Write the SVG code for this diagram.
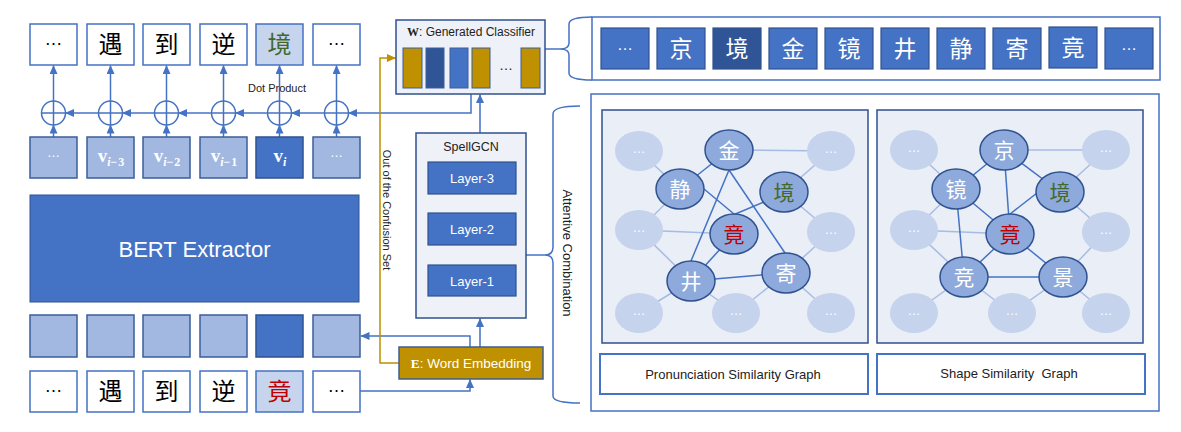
<svg xmlns="http://www.w3.org/2000/svg" width="1181" height="432" viewBox="0 0 1181 432">
<defs>
<marker id="ab" markerUnits="userSpaceOnUse" markerWidth="9" markerHeight="8" refX="8.5" refY="4" orient="auto"><path d="M0,0 L9,4 L0,8 z" fill="#4472C4"/></marker>
<marker id="ag" markerUnits="userSpaceOnUse" markerWidth="9" markerHeight="8" refX="8.5" refY="4" orient="auto"><path d="M0,0 L9,4 L0,8 z" fill="#BF9000"/></marker>
<style>
.cbox{fill:#fff;stroke:#4472C4;stroke-width:1.5}
.hbox{fill:#C7D4ED;stroke:#4472C4;stroke-width:1.5}
.vbox{fill:#A2B8E1;stroke:#3A5E9C;stroke-width:1.5}
.vdark{fill:#4472C4;stroke:#2F528F;stroke-width:1.5}
.blk{fill:#4472C4;stroke:#2F528F;stroke-width:1.2}
.blkd{fill:#2F5597;stroke:#2F528F;stroke-width:1.2}
.pale{fill:#EEF1F8;stroke:#2F528F;stroke-width:1.5}
.big{fill:#fff;stroke:#4472C4;stroke-width:1.5}
.panel{fill:#E9EEF7;stroke:#2F528F;stroke-width:1.5}
.lbl{fill:#fff;stroke:#4472C4;stroke-width:2}
.cjk{font-family:"Noto Sans CJK SC","Noto Sans CJK JP",sans-serif;text-anchor:middle}
.lat{font-family:"Liberation Sans",Arial,sans-serif;text-anchor:middle}
.ser{font-family:"Liberation Serif","Times New Roman",serif;font-weight:bold}
.conn{fill:none;stroke:#4472C4;stroke-width:1.5}
.arr{marker-end:url(#ab)}
.gold{fill:none;stroke:#BF9000;stroke-width:1.5}
.plus{fill:#fff;stroke:#4472C4;stroke-width:1.5}
.mn{fill:#8EA9DB;stroke:#2F528F;stroke-width:1.5}
.fd{fill:#C5D3EC;stroke:none}
.es{stroke:#4472C4;stroke-width:1.5}
.ef{stroke:#A6BCE4;stroke-width:1.5}
.wt{fill:#fff}
.dots{font-family:"Liberation Sans",Arial,sans-serif;text-anchor:middle}
.vl{font-family:"Liberation Serif","Times New Roman",serif;font-weight:bold;font-size:19px;fill:#fff;text-anchor:middle}
.sub{font-size:12px}
</style>
</defs>
<rect width="1181" height="432" fill="#fff"/>

<!-- connectors -->
<g id="connectors">
  <polyline class="conn arr" points="471,94 471,113 348.5,113"/>
  <line class="conn arr" x1="324" y1="113" x2="291.5" y2="113"/>
  <line class="conn arr" x1="267" y1="113" x2="235.5" y2="113"/>
  <line class="conn arr" x1="211" y1="113" x2="178.5" y2="113"/>
  <line class="conn arr" x1="154" y1="113" x2="122.5" y2="113"/>
  <line class="conn arr" x1="98" y1="113" x2="65.5" y2="113"/>
  <line class="conn arr" x1="53.5" y1="137" x2="53.5" y2="125"/>
  <line class="conn arr" x1="110.5" y1="137" x2="110.5" y2="125"/>
  <line class="conn arr" x1="166.5" y1="137" x2="166.5" y2="125"/>
  <line class="conn arr" x1="223.5" y1="137" x2="223.5" y2="125"/>
  <line class="conn arr" x1="279.5" y1="137" x2="279.5" y2="125"/>
  <line class="conn arr" x1="336.5" y1="137" x2="336.5" y2="125"/>
  <line class="conn arr" x1="53.5" y1="101" x2="53.5" y2="65.5"/>
  <line class="conn arr" x1="110.5" y1="101" x2="110.5" y2="65.5"/>
  <line class="conn arr" x1="166.5" y1="101" x2="166.5" y2="65.5"/>
  <line class="conn arr" x1="223.5" y1="101" x2="223.5" y2="65.5"/>
  <line class="conn arr" x1="279.5" y1="101" x2="279.5" y2="65.5"/>
  <line class="conn arr" x1="336.5" y1="101" x2="336.5" y2="65.5"/>
  <line class="conn arr" x1="480" y1="133" x2="480" y2="94.5"/>
  <line class="conn arr" x1="480" y1="347" x2="480" y2="318.5"/>
  <polyline class="conn arr" points="470,347 470,336 361,336"/>
  <polyline class="conn arr" points="360,391 470,391 470,379.5"/>
  <polyline class="gold" points="399,363 380,363 380,58 395.5,58" marker-end="url(#ag)"/>
  <line class="conn" x1="545" y1="49" x2="560" y2="49"/>
  <path class="conn" d="M592,17 Q569,17 569,24 L569,43 Q569,49 560,49 Q569,49 569,55 L569,73 Q569,80 592,80"/>
  <line class="conn" x1="526" y1="255" x2="545" y2="255"/>
  <path class="conn" d="M580,106 Q553,106 553,114 L553,247 Q553,255 545,255 Q553,255 553,263 L553,396 Q553,403 580,403"/>
</g>

<!-- output chars -->
<g id="out-0"><rect class="cbox" x="30" y="24" width="47" height="41"/><text class="dots" x="53.5" y="45" font-size="18" fill="#000">…</text></g>
<g id="out-1"><rect class="cbox" x="87" y="24" width="47" height="41"/><text class="cjk" x="110.5" y="53" font-size="24" fill="#000">遇</text></g>
<g id="out-2"><rect class="cbox" x="143" y="24" width="47" height="41"/><text class="cjk" x="166.5" y="53" font-size="24" fill="#000">到</text></g>
<g id="out-3"><rect class="cbox" x="200" y="24" width="47" height="41"/><text class="cjk" x="223.5" y="53" font-size="24" fill="#000">逆</text></g>
<g id="out-4"><rect class="hbox" x="256" y="24" width="47" height="41"/><text class="cjk" x="279.5" y="53" font-size="24" fill="#43682B">境</text></g>
<g id="out-5"><rect class="cbox" x="313" y="24" width="47" height="41"/><text class="dots" x="336.5" y="45" font-size="18" fill="#000">…</text></g>

<!-- plus circles -->
<g id="plus">
  <g><circle class="plus" cx="53.5" cy="113" r="12"/><path class="conn" d="M41.5,113 H65.5 M53.5,101 V125"/></g>
  <g><circle class="plus" cx="110.5" cy="113" r="12"/><path class="conn" d="M98.5,113 H122.5 M110.5,101 V125"/></g>
  <g><circle class="plus" cx="166.5" cy="113" r="12"/><path class="conn" d="M154.5,113 H178.5 M166.5,101 V125"/></g>
  <g><circle class="plus" cx="223.5" cy="113" r="12"/><path class="conn" d="M211.5,113 H235.5 M223.5,101 V125"/></g>
  <g><circle class="plus" cx="279.5" cy="113" r="12"/><path class="conn" d="M267.5,113 H291.5 M279.5,101 V125"/></g>
  <g><circle class="plus" cx="336.5" cy="113" r="12"/><path class="conn" d="M324.5,113 H348.5 M336.5,101 V125"/></g>
</g>
<text class="lat" x="277" y="92" font-size="11" fill="#222">Dot Product</text>

<!-- v boxes -->
<g id="v-0"><rect class="vbox" x="30" y="137" width="47" height="41"/><text class="dots wt" x="53.5" y="157" font-size="13">…</text></g>
<g id="v-1"><rect class="vbox" x="87" y="137" width="47" height="41"/><text class="vl" x="111" y="162">v<tspan class="sub" dy="4"><tspan font-style="italic">i</tspan>−<tspan dx="1">3</tspan></tspan></text></g>
<g id="v-2"><rect class="vbox" x="143" y="137" width="47" height="41"/><text class="vl" x="167" y="162">v<tspan class="sub" dy="4"><tspan font-style="italic">i</tspan>−<tspan dx="1">2</tspan></tspan></text></g>
<g id="v-3"><rect class="vbox" x="200" y="137" width="47" height="41"/><text class="vl" x="224" y="162">v<tspan class="sub" dy="4"><tspan font-style="italic">i</tspan>−<tspan dx="1">1</tspan></tspan></text></g>
<g id="v-4"><rect class="vdark" x="256" y="137" width="47" height="41"/><text class="vl" x="280" y="162">v<tspan class="sub" dy="4" font-style="italic">i</tspan></text></g>
<g id="v-5"><rect class="vbox" x="313" y="137" width="47" height="41"/><text class="dots wt" x="336.5" y="157" font-size="13">…</text></g>

<!-- BERT -->
<g id="bert"><rect x="30" y="195" width="329" height="107" fill="#4472C4" stroke="#2F528F" stroke-width="1"/><text class="lat wt" x="194.5" y="257" font-size="22">BERT Extractor</text></g>

<!-- embedding boxes -->
<g id="emb">
  <rect class="vbox" x="30" y="315" width="47" height="42"/>
  <rect class="vbox" x="87" y="315" width="47" height="42"/>
  <rect class="vbox" x="143" y="315" width="47" height="42"/>
  <rect class="vbox" x="200" y="315" width="47" height="42"/>
  <rect class="vdark" x="256" y="315" width="47" height="42"/>
  <rect class="vbox" x="313" y="315" width="47" height="42"/>
</g>

<!-- input chars -->
<g id="in-0"><rect class="cbox" x="30" y="371" width="47" height="41"/><text class="dots" x="53.5" y="392" font-size="18" fill="#000">…</text></g>
<g id="in-1"><rect class="cbox" x="87" y="371" width="47" height="41"/><text class="cjk" x="110.5" y="400" font-size="24" fill="#000">遇</text></g>
<g id="in-2"><rect class="cbox" x="143" y="371" width="47" height="41"/><text class="cjk" x="166.5" y="400" font-size="24" fill="#000">到</text></g>
<g id="in-3"><rect class="cbox" x="200" y="371" width="47" height="41"/><text class="cjk" x="223.5" y="400" font-size="24" fill="#000">逆</text></g>
<g id="in-4"><rect class="hbox" x="256" y="371" width="47" height="41"/><text class="cjk" x="279.5" y="400" font-size="24" fill="#C00000">竟</text></g>
<g id="in-5"><rect class="cbox" x="313" y="371" width="47" height="41"/><text class="dots" x="336.5" y="392" font-size="18" fill="#000">…</text></g>

<!-- classifier -->
<g id="classifier">
  <rect class="pale" x="396" y="20" width="149" height="74"/>
  <text class="lat" x="471" y="36" font-size="12" fill="#222"><tspan class="ser">W</tspan>: Generated Classifier</text>
  <rect x="403" y="48" width="19" height="40" fill="#BF9000" stroke="#3A5E9C" stroke-width="1"/>
  <rect x="426" y="48" width="18" height="40" fill="#2F5597" stroke="#3A5E9C" stroke-width="1"/>
  <rect x="450" y="48" width="18" height="40" fill="#4472C4" stroke="#3A5E9C" stroke-width="1"/>
  <rect x="472" y="48" width="18" height="40" fill="#BF9000" stroke="#3A5E9C" stroke-width="1"/>
  <text class="dots" x="506" y="70" font-size="14" fill="#222">…</text>
  <rect x="521" y="48" width="19" height="40" fill="#BF9000" stroke="#3A5E9C" stroke-width="1"/>
</g>

<!-- SpellGCN -->
<g id="spellgcn">
  <rect class="pale" x="416" y="133" width="110" height="185"/>
  <text class="lat" x="471" y="151" font-size="12.5" fill="#222">SpellGCN</text>
  <rect class="blk" x="428" y="162" width="88" height="32"/>
  <text class="lat wt" x="472" y="183" font-size="13">Layer-3</text>
  <rect class="blk" x="428" y="213" width="88" height="32"/>
  <text class="lat wt" x="472" y="234" font-size="13">Layer-2</text>
  <rect class="blk" x="428" y="265" width="88" height="31"/>
  <text class="lat wt" x="472" y="285.5" font-size="13">Layer-1</text>
</g>

<!-- word embedding -->
<g id="word-embedding">
  <rect x="399" y="347" width="144" height="32" fill="#BF9000" stroke="#3F5F8F" stroke-width="1.5"/>
  <text class="lat wt" x="471" y="367.5" font-size="13.5"><tspan class="ser">E</tspan>: Word Embedding</text>
</g>

<text class="lat" transform="translate(383,210) rotate(90)" font-size="11" fill="#222">Out of the Confusion Set</text>
<text class="lat" transform="translate(563,253) rotate(90)" font-size="13" fill="#222">Attentive Combination</text>

<!-- vocabulary -->
<g id="vocab">
  <rect class="big" x="592" y="17" width="568" height="63"/>
  <rect class="blk" x="601" y="28" width="48" height="41"/><text class="dots wt" x="625" y="50" font-size="16">…</text>
  <rect class="blk" x="657" y="28" width="48" height="41"/><text class="cjk wt" x="681" y="57" font-size="23">京</text>
  <rect class="blkd" x="713" y="28" width="48" height="41"/><text class="cjk wt" x="737" y="57" font-size="23">境</text>
  <rect class="blk" x="769" y="28" width="48" height="41"/><text class="cjk wt" x="793" y="57" font-size="23">金</text>
  <rect class="blk" x="825" y="28" width="48" height="41"/><text class="cjk wt" x="849" y="57" font-size="23">镜</text>
  <rect class="blk" x="881" y="28" width="48" height="41"/><text class="cjk wt" x="905" y="57" font-size="23">井</text>
  <rect class="blk" x="937" y="28" width="48" height="41"/><text class="cjk wt" x="961" y="57" font-size="23">静</text>
  <rect class="blk" x="993" y="28" width="48" height="41"/><text class="cjk wt" x="1017" y="57" font-size="23">寄</text>
  <rect class="blk" x="1049" y="27" width="48" height="41"/><text class="cjk wt" x="1073" y="56" font-size="23">竟</text>
  <rect class="blk" x="1105" y="28" width="48" height="41"/><text class="dots wt" x="1129" y="50" font-size="16">…</text>
</g>

<!-- graphs container -->
<rect class="big" x="591" y="94" width="568" height="317"/>

<!-- pronunciation graph -->
<g id="pron-graph">
  <rect class="panel" x="602" y="110" width="266" height="233"/>
  <g id="pron-edges">
    <line class="ef" x1="639" y1="151" x2="680" y2="189"/>
    <line class="ef" x1="639" y1="230" x2="680" y2="189"/>
    <line class="ef" x1="639" y1="230" x2="734" y2="234"/>
    <line class="ef" x1="639" y1="230" x2="691" y2="281"/>
    <line class="ef" x1="639" y1="313" x2="691" y2="281"/>
    <line class="ef" x1="736" y1="313" x2="691" y2="281"/>
    <line class="ef" x1="736" y1="313" x2="786" y2="273"/>
    <line class="ef" x1="831" y1="313" x2="786" y2="273"/>
    <line class="ef" x1="831" y1="232" x2="786" y2="273"/>
    <line class="ef" x1="831" y1="232" x2="784" y2="192"/>
    <line class="ef" x1="831" y1="151" x2="784" y2="192"/>
    <line class="ef" x1="729" y1="150" x2="831" y2="151"/>
    <line class="es" x1="729" y1="150" x2="680" y2="189"/>
    <line class="es" x1="729" y1="170" x2="691" y2="261"/>
    <line class="es" x1="729" y1="170" x2="785" y2="253"/>
    <line class="es" x1="704" y1="189" x2="734" y2="214"/>
    <line class="es" x1="764" y1="202" x2="733" y2="215"/>
    <line class="es" x1="691" y1="281" x2="734" y2="234"/>
    <line class="es" x1="691" y1="281" x2="786" y2="273"/>
  </g>
  <g id="p-tl"><ellipse class="fd" cx="639" cy="151" rx="24" ry="20"/><text class="dots wt" x="639" y="153" font-size="13">…</text></g>
  <g id="p-tr"><ellipse class="fd" cx="831" cy="151" rx="24" ry="20"/><text class="dots wt" x="831" y="153" font-size="13">…</text></g>
  <g id="p-ml"><ellipse class="fd" cx="639" cy="230" rx="24" ry="20"/><text class="dots wt" x="639" y="232" font-size="13">…</text></g>
  <g id="p-mr"><ellipse class="fd" cx="831" cy="232" rx="24" ry="20"/><text class="dots wt" x="831" y="234" font-size="13">…</text></g>
  <g id="p-bl"><ellipse class="fd" cx="639" cy="313" rx="24" ry="20"/><text class="dots wt" x="639" y="315" font-size="13">…</text></g>
  <g id="p-bm"><ellipse class="fd" cx="736" cy="313" rx="24" ry="20"/><text class="dots wt" x="736" y="315" font-size="13">…</text></g>
  <g id="p-br"><ellipse class="fd" cx="831" cy="313" rx="24" ry="20"/><text class="dots wt" x="831" y="315" font-size="13">…</text></g>
  <g id="p-jin"><ellipse class="mn" cx="729" cy="150" rx="24" ry="20"/><text class="cjk wt" x="729" y="157.5" font-size="21">金</text></g>
  <g id="p-jing1"><ellipse class="mn" cx="680" cy="189" rx="24" ry="20"/><text class="cjk wt" x="680" y="196.5" font-size="21">静</text></g>
  <g id="p-jing2"><ellipse class="mn" cx="784" cy="192" rx="24" ry="20"/><text class="cjk" x="784" y="199.5" font-size="21" fill="#43682B">境</text></g>
  <g id="p-jing3"><ellipse class="mn" cx="734" cy="234" rx="24" ry="20"/><text class="cjk" x="734" y="241.5" font-size="21" fill="#C00000">竟</text></g>
  <g id="p-jing4"><ellipse class="mn" cx="691" cy="281" rx="24" ry="20"/><text class="cjk wt" x="691" y="288.5" font-size="21">井</text></g>
  <g id="p-ji"><ellipse class="mn" cx="786" cy="273" rx="24" ry="20"/><text class="cjk wt" x="786" y="280.5" font-size="21">寄</text></g>
</g>

<!-- shape graph -->
<g id="shape-graph">
  <rect class="panel" x="877" y="110" width="266" height="233"/>
  <g id="shape-edges">
    <line class="ef" x1="914" y1="150" x2="956" y2="189"/>
    <line class="ef" x1="914" y1="230" x2="956" y2="189"/>
    <line class="ef" x1="914" y1="230" x2="1010" y2="234"/>
    <line class="ef" x1="914" y1="230" x2="964" y2="277"/>
    <line class="ef" x1="914" y1="313" x2="964" y2="277"/>
    <line class="ef" x1="1012" y1="313" x2="964" y2="277"/>
    <line class="ef" x1="1012" y1="313" x2="1063" y2="277"/>
    <line class="ef" x1="1106" y1="313" x2="1063" y2="277"/>
    <line class="ef" x1="1106" y1="232" x2="1063" y2="277"/>
    <line class="ef" x1="1106" y1="232" x2="1060" y2="192"/>
    <line class="ef" x1="1106" y1="150" x2="1060" y2="192"/>
    <line class="ef" x1="1004" y1="150" x2="1106" y2="150"/>
    <line class="es" x1="1004" y1="150" x2="956" y2="189"/>
    <line class="es" x1="1004" y1="150" x2="1010" y2="234"/>
    <line class="es" x1="1004" y1="150" x2="1060" y2="192"/>
    <line class="es" x1="956" y1="189" x2="1010" y2="234"/>
    <line class="es" x1="1037" y1="193" x2="1010" y2="214"/>
    <line class="es" x1="956" y1="189" x2="964" y2="277"/>
    <line class="es" x1="964" y1="277" x2="1010" y2="234"/>
    <line class="es" x1="964" y1="277" x2="1063" y2="277"/>
    <line class="es" x1="1010" y1="234" x2="1063" y2="277"/>
  </g>
  <g id="s-tl"><ellipse class="fd" cx="914" cy="150" rx="24" ry="20"/><text class="dots wt" x="914" y="152" font-size="13">…</text></g>
  <g id="s-tr"><ellipse class="fd" cx="1106" cy="150" rx="24" ry="20"/><text class="dots wt" x="1106" y="152" font-size="13">…</text></g>
  <g id="s-ml"><ellipse class="fd" cx="914" cy="230" rx="24" ry="20"/><text class="dots wt" x="914" y="232" font-size="13">…</text></g>
  <g id="s-mr"><ellipse class="fd" cx="1106" cy="232" rx="24" ry="20"/><text class="dots wt" x="1106" y="234" font-size="13">…</text></g>
  <g id="s-bl"><ellipse class="fd" cx="914" cy="313" rx="24" ry="20"/><text class="dots wt" x="914" y="315" font-size="13">…</text></g>
  <g id="s-bm"><ellipse class="fd" cx="1012" cy="313" rx="24" ry="20"/><text class="dots wt" x="1012" y="315" font-size="13">…</text></g>
  <g id="s-br"><ellipse class="fd" cx="1106" cy="313" rx="24" ry="20"/><text class="dots wt" x="1106" y="315" font-size="13">…</text></g>
  <g id="s-jing1"><ellipse class="mn" cx="1004" cy="150" rx="24" ry="20"/><text class="cjk wt" x="1004" y="157.5" font-size="21">京</text></g>
  <g id="s-jing2"><ellipse class="mn" cx="956" cy="189" rx="24" ry="20"/><text class="cjk wt" x="956" y="196.5" font-size="21">镜</text></g>
  <g id="s-jing3"><ellipse class="mn" cx="1060" cy="192" rx="24" ry="20"/><text class="cjk" x="1060" y="199.5" font-size="21" fill="#43682B">境</text></g>
  <g id="s-jing4"><ellipse class="mn" cx="1010" cy="234" rx="24" ry="20"/><text class="cjk" x="1010" y="241.5" font-size="21" fill="#C00000">竟</text></g>
  <g id="s-jing5"><ellipse class="mn" cx="964" cy="277" rx="24" ry="20"/><text class="cjk wt" x="964" y="284.5" font-size="21">竞</text></g>
  <g id="s-jing6"><ellipse class="mn" cx="1063" cy="277" rx="24" ry="20"/><text class="cjk wt" x="1063" y="284.5" font-size="21">景</text></g>
</g>

<!-- graph labels -->
<g id="label-pron"><rect class="lbl" x="600" y="354" width="268" height="40"/><text class="lat" x="733" y="378.5" font-size="13" fill="#222">Pronunciation Similarity Graph</text></g>
<g id="label-shape"><rect class="lbl" x="877" y="354" width="268" height="40"/><text class="lat" x="1009" y="377.5" font-size="13" fill="#222" style="white-space:pre">Shape Similarity  Graph</text></g>
</svg>
